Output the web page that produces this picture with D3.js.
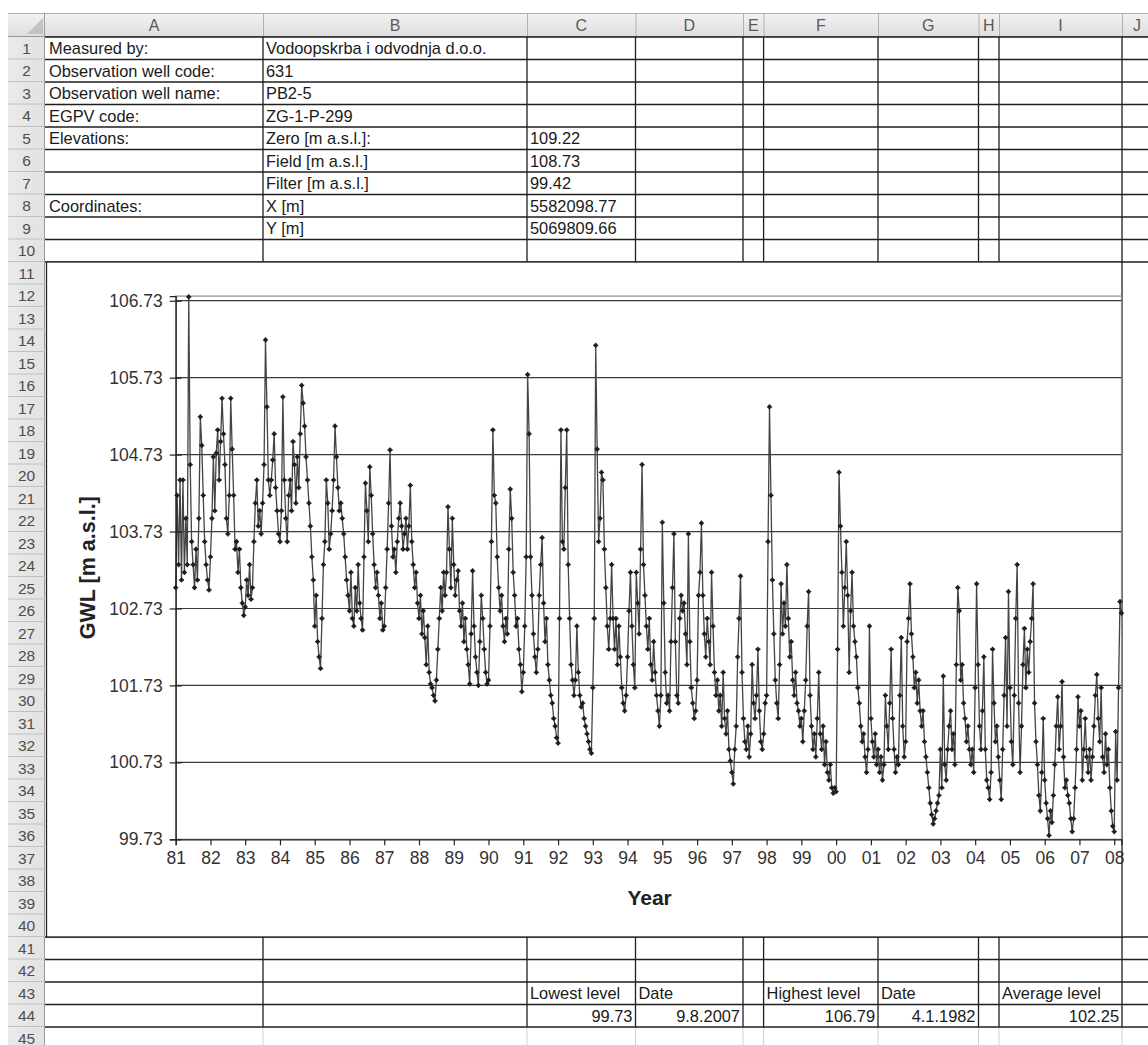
<!DOCTYPE html>
<html><head><meta charset="utf-8">
<script src="https://cdn.jsdelivr.net/npm/d3@7"></script>
<style>
body{margin:0;background:#fff}
svg{display:block}
text{font-family:"Liberation Sans",Arial,Helvetica,sans-serif}
</style>
</head><body>
<svg id="c" width="1148" height="1045"></svg>
<script>
// ---------- sheet contents ----------
const columnLetters = ["A","B","C","D","E","F","G","H","I","J"];
const infoLabels = ["Measured by:","Observation well code:","Observation well name:","EGPV code:","Elevations:","","","Coordinates:","",""];
const infoNames  = ["Vodoopskrba i odvodnja d.o.o.","631","PB2-5","ZG-1-P-299","Zero [m a.s.l.]:","Field [m a.s.l.]","Filter [m a.s.l.]","X [m]","Y [m]",""];
const infoValues = ["","","","","109.22","108.73","99.42","5582098.77","5069809.66",""];
const statHeaders = ["Lowest level","Date","Highest level","Date","Average level"];
const statValues  = ["99.73","9.8.2007","106.79","4.1.1982","102.25"];

// ---------- chart axes ----------
const yTicks = [99.73,100.73,101.73,102.73,103.73,104.73,105.73,106.73];
const xTickYears = [1981,1982,1983,1984,1985,1986,1987,1988,1989,1990,1991,1992,1993,1994,1995,1996,1997,1998,1999,2000,2001,2002,2003,2004,2005,2006,2007,2008];
const yMin = 99.73, yMax = 106.79;   // lowest / highest level
const xEnd = 2008.21;

// ---------- groundwater level, twice-monthly readings per year ----------
const levels1981 = [103.0,104.2,103.3,104.4,103.1,104.4,103.2,103.9,103.3,106.78,104.6,103.6,103.3,103.0,103.5,103.1,103.9,105.22,104.85,104.2,103.6,103.3,103.1,102.97];
const levels1982 = [103.4,103.9,104.7,104.0,104.75,105.05,104.4,104.9,105.46,105.0,104.6,103.9,103.7,104.2,105.46,104.8,104.2,103.5,103.6,103.2,103.5,103.0,102.8,102.64];
const levels1983 = [102.75,103.1,102.9,103.3,102.85,103.0,103.6,104.1,104.4,103.8,104.0,103.7,104.1,104.6,106.22,105.35,104.4,104.2,104.4,104.66,105.0,104.3,104.0,103.7];
const levels1984 = [103.6,104.0,105.48,104.4,103.9,103.6,104.2,104.4,104.0,104.9,104.6,104.1,104.7,104.3,105.0,105.63,105.4,105.1,104.7,104.4,104.1,103.8,103.4,103.1];
const levels1985 = [102.5,102.9,102.3,102.1,101.95,102.6,103.3,103.6,104.4,104.1,103.5,103.7,104.0,104.4,105.1,104.7,104.3,104.0,104.1,103.9,103.7,103.4,103.1,102.9];
const levels1986 = [102.7,103.2,102.6,102.5,103.0,102.7,103.3,102.8,102.6,102.45,103.4,104.36,104.0,103.6,104.57,104.2,103.7,103.3,103.0,103.2,102.9,102.6,102.8,102.45];
const levels1987 = [102.5,103.0,103.5,104.1,104.79,103.8,103.4,103.5,103.2,103.6,103.9,104.1,103.8,103.5,103.7,103.9,103.5,103.8,104.33,103.6,103.3,103.0,103.2,102.8];
const levels1988 = [102.6,102.9,102.4,102.7,102.35,102.0,102.5,101.9,101.75,101.7,101.6,101.53,101.8,102.2,102.6,103.0,102.7,103.2,102.9,103.2,104.05,103.5,103.0,103.9];
const levels1989 = [103.3,102.9,103.1,103.22,102.7,102.5,102.8,102.3,102.6,102.2,102.0,101.75,102.4,103.22,102.5,102.1,101.9,101.73,102.3,102.9,102.6,102.2,101.9,101.75];
const levels1990 = [101.8,102.5,103.6,105.05,104.2,104.1,103.4,103.0,102.7,102.9,102.5,102.3,102.6,102.4,103.5,104.28,103.9,103.2,102.9,102.5,102.6,102.2,102.0,101.65];
const levels1991 = [101.9,102.5,103.4,105.77,105.0,103.4,102.9,102.4,102.1,101.9,102.2,102.9,103.3,103.65,102.8,102.3,102.6,102.0,101.8,101.6,101.5,101.3,101.2,101.05];
const levels1992 = [100.98,102.6,105.05,103.6,103.5,104.3,105.05,103.3,102.6,102.0,101.8,101.6,101.8,102.5,101.9,101.6,101.45,101.5,101.3,101.2,101.1,101.0,100.9,100.85];
const levels1993 = [101.7,102.6,106.15,104.8,103.6,103.9,104.5,104.4,103.5,103.0,102.5,102.2,102.6,103.3,102.6,102.2,102.6,102.0,102.5,102.1,101.7,101.5,101.4,101.6];
const levels1994 = [102.1,102.7,103.2,102.5,102.0,101.7,103.2,102.8,102.4,103.5,104.6,103.3,102.9,102.5,102.2,102.6,102.0,101.8,102.3,101.9,101.6,101.4,101.2,101.6];
const levels1995 = [103.85,102.8,101.9,101.5,101.6,101.4,102.3,103.0,103.7,102.3,101.6,101.5,102.6,102.9,102.7,102.8,102.4,102.0,103.7,102.3,101.7,101.5,101.3,101.4];
const levels1996 = [101.8,102.9,103.2,103.84,102.9,102.4,102.1,102.6,102.3,102.0,103.2,102.5,101.9,101.6,101.8,101.4,101.6,101.2,101.9,101.3,101.1,101.4,100.9,100.75];
const levels1997 = [100.6,100.45,100.9,101.2,102.1,102.6,103.15,101.9,101.3,101.0,100.9,101.2,100.8,101.1,102.0,101.5,101.3,101.6,102.2,101.4,101.0,100.9,101.1,101.5];
const levels1998 = [101.6,103.6,105.35,104.2,103.1,102.4,101.8,101.5,101.3,102.0,103.05,102.4,102.8,102.5,103.3,102.6,102.1,102.3,101.8,101.6,101.9,101.5,101.4,101.2];
const levels1999 = [101.3,101.0,101.4,101.8,102.5,102.95,101.6,101.2,100.9,101.1,100.8,101.3,101.9,101.1,100.9,101.2,100.7,101.0,100.6,100.5,100.7,100.4,100.33,100.4];
const levels2000 = [100.35,102.2,104.5,103.8,103.2,102.5,103.0,103.6,102.9,101.9,102.7,103.2,102.5,102.3,102.1,101.7,101.5,101.2,101.0,101.1,100.8,100.6,100.9,102.5];
const levels2001 = [101.3,101.0,100.8,101.1,100.7,100.9,100.6,100.8,100.5,100.7,101.6,101.2,100.9,101.5,102.2,101.3,100.9,100.6,100.8,100.7,101.6,102.35,101.2,100.8];
const levels2002 = [101.0,102.3,102.6,103.05,102.4,102.1,101.7,101.9,101.5,101.8,101.4,101.2,101.4,101.0,100.8,100.6,100.4,100.2,100.05,99.93,100.0,100.1,100.2,100.3];
const levels2003 = [100.9,100.4,101.85,100.7,100.5,100.9,101.2,101.4,100.9,101.1,100.7,102.0,103.0,102.7,101.8,102.0,101.5,101.3,101.0,101.2,100.9,100.7,100.9,100.6];
const levels2004 = [101.7,103.05,102.0,101.2,100.9,101.4,102.1,100.9,100.5,100.4,100.25,100.6,102.2,101.5,101.0,101.2,100.8,100.5,100.25,100.9,101.6,102.35,101.2,102.95];
const levels2005 = [101.7,101.0,100.7,101.6,102.6,103.3,101.5,100.6,101.2,102.0,102.47,101.7,102.2,101.9,102.3,102.6,103.05,101.5,101.0,100.7,100.3,100.1,100.6,101.3];
const levels2006 = [100.5,100.2,100.0,99.78,100.1,99.95,100.3,100.7,101.2,101.58,100.9,101.2,101.78,100.8,100.4,100.5,100.3,100.2,100.0,99.83,100.0,100.4,100.9,101.58];
const levels2007 = [101.2,101.4,100.5,100.9,101.3,100.8,100.6,100.9,100.5,100.8,101.2,101.6,101.87,101.3,101.0,101.7,100.8,100.6,101.1,100.7,100.9,100.4,100.1,99.9];
const levels2008 = [99.83,101.13,100.5,101.7,102.82,102.67];
const levelsByYear = [levels1981,levels1982,levels1983,levels1984,levels1985,levels1986,levels1987,levels1988,levels1989,levels1990,levels1991,levels1992,levels1993,levels1994,levels1995,levels1996,levels1997,levels1998,levels1999,levels2000,levels2001,levels2002,levels2003,levels2004,levels2005,levels2006,levels2007,levels2008];
const readingsPerYear = 24;

const series = [];
levelsByYear.forEach((arr, k) => arr.forEach((v, i) => series.push({t: xTickYears[k] + i / readingsPerYear, v})));

// ---------- layout ----------
const svg = d3.select("#c");
const colEdges = [45, 263, 527, 635.5, 743, 763.6, 878, 978.5, 999, 1122, 1180];
const headTop = 13, headBottom = 37, rowH = 22.5, rowLeft = 8;
const rowTop = n => headBottom + (n - 1) * rowH;
const nRows = 45;

const defs = svg.append("defs");
const gr = defs.append("linearGradient").attr("id","hdr").attr("x1",0).attr("y1",0).attr("x2",0).attr("y2",1);
gr.append("stop").attr("offset","0%").attr("stop-color","#f2f2f2");
gr.append("stop").attr("offset","100%").attr("stop-color","#dedede");
const gr2 = defs.append("linearGradient").attr("id","rhdr").attr("x1",0).attr("y1",0).attr("x2",1).attr("y2",0);
gr2.append("stop").attr("offset","0%").attr("stop-color","#eaeaea");
gr2.append("stop").attr("offset","100%").attr("stop-color","#e2e2e2");

// headers
const hdr = svg.append("g");
hdr.append("rect").attr("x", rowLeft).attr("y", headTop).attr("width", 1148 - rowLeft).attr("height", headBottom - headTop).attr("fill", "url(#hdr)");
hdr.append("rect").attr("x", rowLeft).attr("y", headBottom).attr("width", colEdges[0] - rowLeft).attr("height", 1045 - headBottom).attr("fill", "url(#rhdr)");
hdr.append("line").attr("x1", rowLeft).attr("x2", 1148).attr("y1", headTop + 0.5).attr("y2", headTop + 0.5).attr("stroke", "#b0b0b0");
hdr.append("line").attr("x1", rowLeft).attr("x2", 1148).attr("y1", headBottom - 0.5).attr("y2", headBottom - 0.5).attr("stroke", "#999");
hdr.append("line").attr("x1", colEdges[0] - 0.5).attr("x2", colEdges[0] - 0.5).attr("y1", headTop).attr("y2", 1045).attr("stroke", "#999");
hdr.append("polygon").attr("points", "43,18 43,34 27,34").attr("fill", "#c2c2c2");
columnLetters.forEach((c, i) => {
  const x0 = colEdges[i], x1 = Math.min(colEdges[i + 1], 1148);
  hdr.append("line").attr("x1", x1 + 0.5).attr("x2", x1 + 0.5).attr("y1", headTop).attr("y2", headBottom).attr("stroke", "#b0b0b0");
  hdr.append("text").attr("x", i === 9 ? 1137 : (x0 + x1) / 2).attr("y", 31).attr("text-anchor", "middle")
    .attr("font-size", 16).attr("fill", "#5a5a5a").text(c);
});
for (let n = 1; n <= nRows; n++) {
  hdr.append("line").attr("x1", rowLeft).attr("x2", colEdges[0]).attr("y1", rowTop(n + 1) - 0.5).attr("y2", rowTop(n + 1) - 0.5).attr("stroke", "#c0c0c0");
  hdr.append("text").attr("x", 26.5).attr("y", rowTop(n) + 16.5).attr("text-anchor", "middle")
    .attr("font-size", 15.5).attr("fill", "#4e4e4e").text(n);
}

// cell grid
const grid = svg.append("g");
function hline(y, x1, x2, col, w) { grid.append("line").attr("x1", x1).attr("x2", x2).attr("y1", y).attr("y2", y).attr("stroke", col).attr("stroke-width", w); }
function vline(x, y1, y2, col, w) { grid.append("line").attr("x1", x).attr("x2", x).attr("y1", y1).attr("y2", y2).attr("stroke", col).attr("stroke-width", w); }
colEdges.slice(1, 10).forEach(x => vline(x, rowTop(45), 1045, "#d0d0d0", 1));
[[1, 10], [41, 44]].forEach(([a, b]) => {
  for (let n = a; n <= b + 1; n++) hline(rowTop(n), colEdges[0], 1148, "#1e1e1e", 1.3);
  colEdges.slice(1, 10).forEach(x => vline(x, rowTop(a), rowTop(b + 1), "#1e1e1e", 1.3));
});

// cell text
const cells = svg.append("g").attr("font-size", 16.4).attr("fill", "#1a1a1a");
for (let r = 0; r < 10; r++) {
  const base = rowTop(r + 1) + 17;
  cells.append("text").attr("x", colEdges[0] + 4).attr("y", base).text(infoLabels[r]);
  cells.append("text").attr("x", colEdges[1] + 3).attr("y", base).text(infoNames[r]);
  cells.append("text").attr("x", colEdges[2] + 3).attr("y", base).text(infoValues[r]);
}
const statCols = [2, 3, 5, 6, 8];
statCols.forEach((c, i) => {
  cells.append("text").attr("x", colEdges[c] + 3).attr("y", rowTop(43) + 17).text(statHeaders[i]);
  cells.append("text").attr("x", colEdges[c + 1] - 3).attr("y", rowTop(44) + 17).attr("text-anchor", "end").text(statValues[i]);
});

// ---------- chart ----------
const chartBox = {x: 46.5, y: rowTop(11), r: 1122, b: rowTop(41)};
svg.append("rect").attr("x", chartBox.x).attr("y", chartBox.y).attr("width", chartBox.r - chartBox.x).attr("height", chartBox.b - chartBox.y)
  .attr("fill", "#fff").attr("stroke", "#222").attr("stroke-width", 1.3);

const plot = {l: 175.7, r: 1121.5, t: 296.1, b: 839.3};
const x = d3.scaleLinear().domain([xTickYears[0], xEnd]).range([plot.l, plot.r]);
const y = d3.scaleLinear().domain([yMin, yMax]).range([plot.b, plot.t]);

const ch = svg.append("g");
ch.append("rect").attr("x", plot.l).attr("y", plot.t).attr("width", plot.r - plot.l).attr("height", plot.b - plot.t)
  .attr("fill", "none").attr("stroke", "#8c8c8c").attr("stroke-width", 1.2);
ch.append("g").selectAll("line").data(yTicks.slice(1)).join("line")
  .attr("x1", plot.l).attr("x2", plot.r).attr("y1", d => y(d)).attr("y2", d => y(d))
  .attr("stroke", "#3a3a3a").attr("stroke-width", 1.2);

const line = d3.line().x(d => x(d.t)).y(d => y(d.v));
ch.append("path").datum(series).attr("d", line).attr("fill", "none").attr("stroke", "#444").attr("stroke-width", 1.3);
ch.append("g").selectAll("path").data(series).join("path")
  .attr("transform", d => `translate(${x(d.t)},${y(d.v)})`)
  .attr("d", "M-2.6,0H2.6M0,-2.6V2.6M-1.4,-1.4L1.4,1.4M-1.4,1.4L1.4,-1.4").attr("stroke", "#1e1e1e").attr("stroke-width", 1.3);

const yAxis = ch.append("g").attr("transform", `translate(${plot.l},0)`)
  .call(d3.axisLeft(y).tickValues(yTicks).tickFormat(d3.format(".2f")).tickSizeOuter(0).tickSize(6).tickPadding(7));
yAxis.selectAll(".tick").append("line").attr("x2", 6).attr("stroke", "#222");
const xAxis = ch.append("g").attr("transform", `translate(0,${plot.b})`)
  .call(d3.axisBottom(x).tickValues(xTickYears).tickFormat(d => String(d % 100).padStart(2, "0")).tickSizeOuter(0).tickSize(6).tickPadding(6));
[yAxis, xAxis].forEach(a => {
  a.select(".domain").attr("stroke", "#222").attr("stroke-width", 1.3);
  a.selectAll(".tick line").attr("stroke", "#222").attr("stroke-width", 1.2);
  a.selectAll("text").attr("font-size", 17.5).attr("fill", "#333").attr("font-family", "'Liberation Sans',Arial,sans-serif");
});

ch.append("text").attr("x", (plot.l + plot.r) / 2 + 1).attr("y", 905).attr("text-anchor", "middle")
  .attr("font-size", 21).attr("font-weight", "bold").attr("fill", "#222").text("Year");
ch.append("text").attr("transform", `translate(95,${(plot.t + plot.b) / 2}) rotate(-90)`).attr("text-anchor", "middle")
  .attr("font-size", 21.5).attr("font-weight", "bold").attr("fill", "#222").text("GWL [m a.s.l.]");
</script>
</body></html>
